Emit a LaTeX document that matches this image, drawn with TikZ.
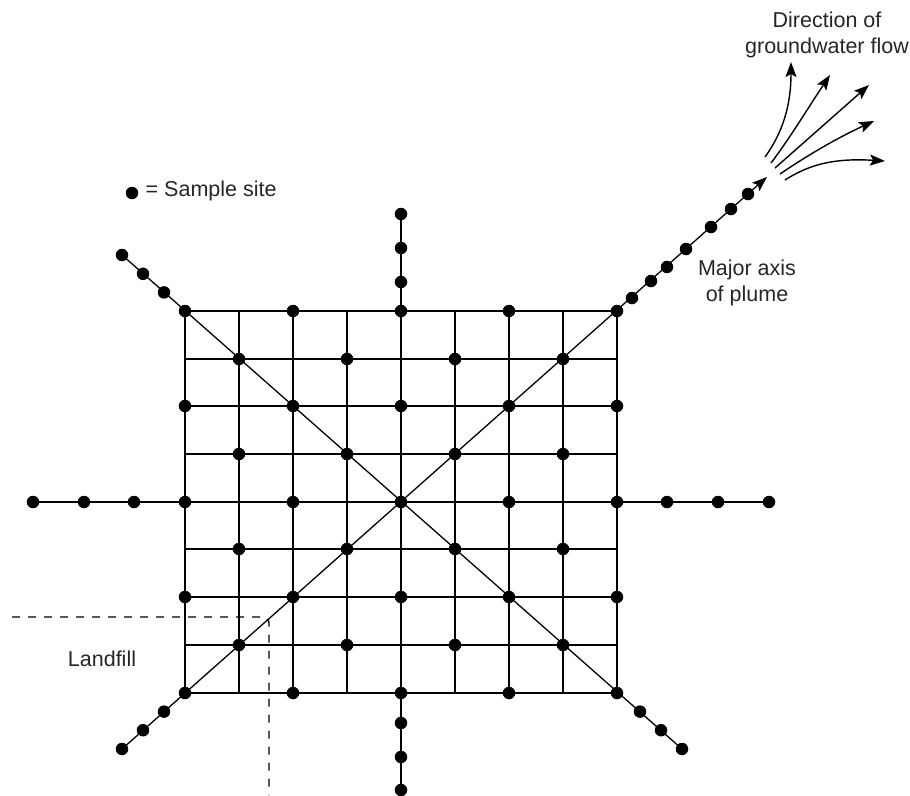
\documentclass[tikz,border=0pt]{standalone}
\usepackage{fontspec}
\setmainfont{Liberation Sans}
\usetikzlibrary{arrows.meta}
\begin{document}
\begin{tikzpicture}[x=1pt,y=-1pt, line width=1.4pt,
  site/.style={circle,fill=black,inner sep=0pt,minimum size=12.5pt},
  lbl/.style={font=\fontsize{21.5}{26}\selectfont, text=black!85, align=center, inner sep=0pt},
  tipstyle/.style={-{Stealth[length=15pt,width=11pt,inset=3pt]}},
  flow/.style={line width=1.4pt, tipstyle},
  bound/.style={dash pattern=on 8pt off 8pt, line width=1.3pt}]
\useasboundingbox (0,0) rectangle (910,795);
% grid coordinates
\foreach \i in {0,...,8} {
  \foreach \j/\yy in {0/311,1/359,2/406,3/454,4/502,5/549,6/597,7/645,8/693} {
    \coordinate (g\i-\j) at ({185+54*\i},\yy);
  }
}
% grid lines
\foreach \k in {0,...,8} {
  \draw (g\k-0) -- (g\k-8);
  \draw (g0-\k) -- (g8-\k);
}
% arm coordinates
\coordinate (l1) at (134,502); \coordinate (l2) at (84,502); \coordinate (l3) at (33,502);
\coordinate (r1) at (667,502); \coordinate (r2) at (718,502); \coordinate (r3) at (769,502);
\coordinate (t1) at (401,282); \coordinate (t2) at (401,248); \coordinate (t3) at (401,214);
\coordinate (b1) at (401,723); \coordinate (b2) at (401,757); \coordinate (b3) at (401,790);
\coordinate (ul1) at (164,292.4); \coordinate (ul2) at (143,273.8); \coordinate (ul3) at (122,255);
\coordinate (ll1) at (164,711.6); \coordinate (ll2) at (143,730.2); \coordinate (ll3) at (122,749);
\coordinate (lr1) at (640,711.6); \coordinate (lr2) at (661,730.2); \coordinate (lr3) at (682,749);
\coordinate (ur1) at (632,298); \coordinate (ur2) at (651,281); \coordinate (ur3) at (667,267);
\coordinate (ur4) at (686,249); \coordinate (ur5) at (711,227); \coordinate (ur6) at (731,209);
\coordinate (ur7) at (748,194);
\coordinate (axtip) at (767,177);
% arms
\draw (l3) -- (g0-4);
\draw (g8-4) -- (r3);
\draw (t3) -- (g4-0);
\draw (g4-8) -- (b3);
% diagonals
\draw[line width=1.3pt] (ul3) -- (lr3);
\draw[line width=1.3pt, tipstyle] (ll3) -- (axtip);
% sample sites on grid (checkerboard)
\foreach \i in {0,...,8} {
  \foreach \j in {0,...,8} {
    \pgfmathtruncatemacro{\parity}{mod(\i+\j,2)}
    \ifnum\parity=0 \node[site] (s\i-\j) at (g\i-\j) {}; \fi
  }
}
% sample sites on arms
\foreach \n in {l1,l2,l3,r1,r2,r3,t1,t2,t3,b1,b2,b3,ul1,ul2,ul3,ll1,ll2,ll3,lr1,lr2,lr3,ur1,ur2,ur3,ur4,ur5,ur6,ur7} {
  \node[site] (s\n) at (\n) {};
}
% groundwater flow arrows
\coordinate (f1s) at (765,157); \coordinate (f1e) at (791,62);
\coordinate (f2s) at (771,163); \coordinate (f2e) at (830,75);
\coordinate (f3s) at (775,168); \coordinate (f3e) at (869,85);
\coordinate (f4s) at (780,174); \coordinate (f4e) at (874,121);
\coordinate (f5s) at (785,180); \coordinate (f5e) at (885,161);
\draw[flow] (f1s) .. controls (783,132) and (791,105) .. (f1e);
\draw[flow] (f2s) .. controls (790,138) and (808,108) .. (f2e);
\draw[flow] (f3s) -- (f3e);
\draw[flow] (f4s) .. controls (805,157) and (835,139) .. (f4e);
\draw[flow] (f5s) .. controls (810,164) and (835,158) .. (f5e);
% landfill boundary
\coordinate (lfa) at (12,617); \coordinate (lfb) at (269,617); \coordinate (lfc) at (269,795);
\draw[bound, rounded corners=6pt] (lfa) -- (lfb) -- (lfc);
% labels
\node[lbl] (dir) at (827,35) {Direction of\\groundwater flow};
\node[lbl] (maj) at (747,283) {Major axis\\of plume};
\node[lbl] (land) at (102,659) {Landfill};
\node[site] (leg) at (132,193) {};
\node[lbl, anchor=west] (legt) at (145,191) {= Sample site};
\end{tikzpicture}
\end{document}
